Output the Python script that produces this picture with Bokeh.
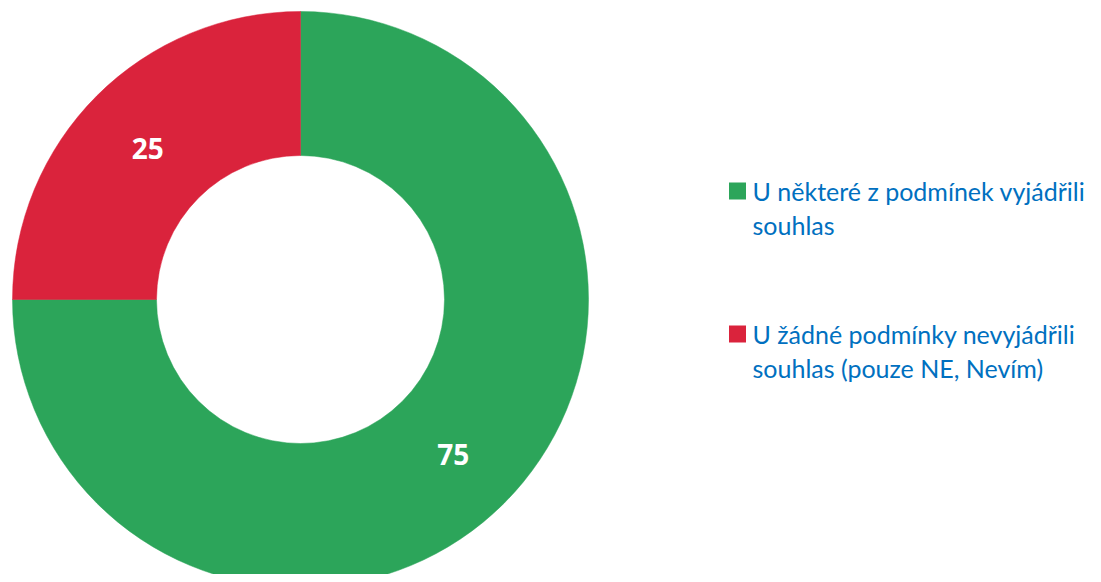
import math
from bokeh.plotting import figure
from bokeh.models import Range1d, ColumnDataSource
from bokeh.core.properties import value
from bokeh.embed import file_html
from bokeh.resources import INLINE

categories = ["U některé z podmínek vyjádřili\nsouhlas",
              "U žádné podmínky nevyjádřili\nsouhlas (pouze NE, Nevím)"]
values = [75, 25]
colors = ["#2CA55A", "#DA233C"]

W, H = 1093, 574          # figure size in pixels (1 data unit = 1 px)
p = figure(width=W, height=H, output_backend="svg", toolbar_location=None,
           x_range=Range1d(0, W), y_range=Range1d(0, H), min_border=0)
p.axis.visible = False
p.grid.visible = False
p.outline_line_color = None
p.background_fill_color = "white"
p.border_fill_color = "white"

cx, cy = 300, H - 299
r_out, r_in = 288, 144
total = sum(values)
starts, ends, lx, ly = [], [], [], []
cum = 0
for v in values:
    a0 = math.pi / 2 - cum / total * 2 * math.pi
    a1 = math.pi / 2 - (cum + v) / total * 2 * math.pi
    starts.append(a0)
    ends.append(a1)
    mid = (a0 + a1) / 2
    rm = (r_out + r_in) / 2
    lx.append(cx + rm * math.cos(mid))
    ly.append(cy + rm * math.sin(mid))
    cum += v

src = ColumnDataSource(dict(x=[cx] * len(values), y=[cy] * len(values),
                            s=starts, e=ends, c=colors,
                            lx=lx, ly=ly, t=[str(v) for v in values]))
p.annular_wedge(x="x", y="y", inner_radius=r_in, outer_radius=r_out,
                start_angle="s", end_angle="e", direction="clock",
                fill_color="c", line_color="c", line_width=0.5, source=src)
p.text(x="lx", y="ly", text="t", text_color="white", text_font=value("Open Sans"),
       text_font_style="bold", text_font_size="28px", text_align="center",
       text_baseline="middle", y_offset=2, source=src)

# legend
sq_x, txt_x = 737, 752
base0 = H - 190
step = 143
line_h = 34
sq_y, tx, ty, tt = [], [], [], []
for i, lab in enumerate(categories):
    b = base0 - i * step
    sq_y.append(b - 0.5)
    for j, line in enumerate(lab.split("\n")):
        tx.append(txt_x)
        ty.append(b - j * line_h)
        tt.append(line)
p.rect(x=[sq_x] * len(categories), y=sq_y, width=17, height=17,
       fill_color=colors, line_color=None)
p.text(x=tx, y=ty, text=tt, text_color="#0070C0", text_font=value("Lato"),
       text_font_size="25px", text_baseline="alphabetic", text_align="left")

open("out.html", "w").write(file_html(p, INLINE))
